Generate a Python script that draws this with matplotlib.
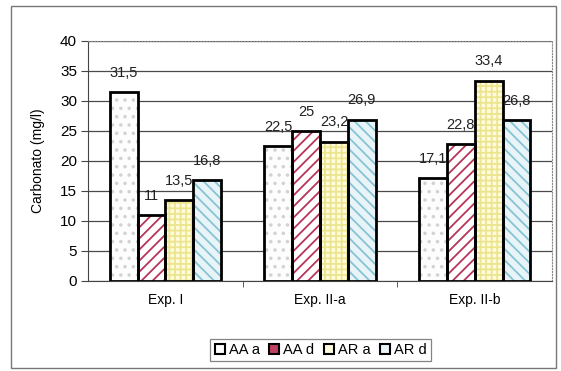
import numpy as np
import matplotlib
matplotlib.use("Agg")
import matplotlib.pyplot as plt
from matplotlib.patches import Rectangle
from matplotlib.lines import Line2D

plt.rcParams['font.family'] = ['Liberation Sans', 'DejaVu Sans']
plt.rcParams['hatch.linewidth'] = 1.3

# carbonate concentration per experiment and series
experiments = ['Exp. I', 'Exp. II-a', 'Exp. II-b']
series = ['AA a', 'AA d', 'AR a', 'AR d']
aa_a = [31.5, 22.5, 17.1]
aa_d = [11, 25, 22.8]
ar_a = [13.5, 23.2, 33.4]
ar_d = [16.8, 26.9, 26.8]
values = [aa_a, aa_d, ar_a, ar_d]

# fill, hatch and hatch colour per series
faces = ['#fdfdfd', '#ffffff', '#fffbdc', '#e8f4f8']
hatches = ['..', '///', '+++', '\\\\\\']
hatch_cols = ['#d2d2d2', '#b8345a', '#ebe590', '#86c4d4']

fig = plt.figure(figsize=(5.61, 3.71), dpi=100)
ax = fig.add_axes([0.157, 0.2426, 0.827, 0.647])

x = np.arange(len(experiments))
w = 0.18
for i, vals in enumerate(values):
    pos = x + (i - 1.5) * w
    ax.bar(pos, vals, w, color=faces[i], hatch=hatches[i],
           edgecolor=hatch_cols[i], linewidth=0, zorder=3)
    ax.bar(pos, vals, w, fill=False, edgecolor='black', linewidth=2, zorder=4)
    for px, v in zip(pos, vals):
        ax.annotate(f'{v:g}'.replace('.', ','), (px, v), xytext=(0, 14),
                    textcoords='offset points', ha='center', va='center',
                    fontsize=10.5, color='#222222', zorder=5)

ax.set_xlim(-0.5, 2.5)
ax.set_ylim(0, 40)
ax.set_yticks(np.arange(0, 41, 5))
ax.set_xticks(x)
ax.set_xticklabels(experiments, fontsize=10)
ax.set_xticks([0.5, 1.5], minor=True)
ax.tick_params(axis='x', which='major', length=0, pad=9)
ax.tick_params(axis='x', which='minor', length=4, direction='out', color='#444444')
ax.tick_params(axis='y', length=5, direction='out', labelsize=11, pad=3, color='#444444')

ax.yaxis.grid(True, color='#4a4a4a', linewidth=0.9, zorder=0)
ax.set_axisbelow(True)
ax.spines['top'].set_linestyle(':')
ax.spines['top'].set_color('#888888')
ax.spines['right'].set_linestyle(':')
ax.spines['right'].set_color('#888888')
ax.spines['left'].set_color('#444444')
ax.spines['bottom'].set_color('#444444')

ax.set_ylabel('Carbonato (mg/l)', fontsize=10)
ax.yaxis.set_label_coords(-0.093, 0.5)

# legend with small squared markers below the plot
handles = [Line2D([], [], linestyle='none', marker='s', markersize=7,
                  markerfacecolor=fc if i != 1 else '#c04060',
                  markeredgecolor='black', markeredgewidth=1.5)
           for i, fc in enumerate(faces)]
leg = fig.legend(handles, series, loc='center', bbox_to_anchor=(0.571, 0.0566),
                 ncol=4, fontsize=10.5, frameon=True, fancybox=False,
                 handlelength=0.8, handletextpad=0.2, columnspacing=0.6,
                 borderpad=0.3)
leg.get_frame().set_edgecolor('#666666')
leg.get_frame().set_linewidth(0.9)

# outer border around the chart
fig.patches.append(Rectangle((11 / 561, 3 / 371), 545 / 561, 362 / 371,
                             transform=fig.transFigure, fill=False,
                             edgecolor='#777777', linewidth=1))

fig.savefig('out.png', dpi=100)
